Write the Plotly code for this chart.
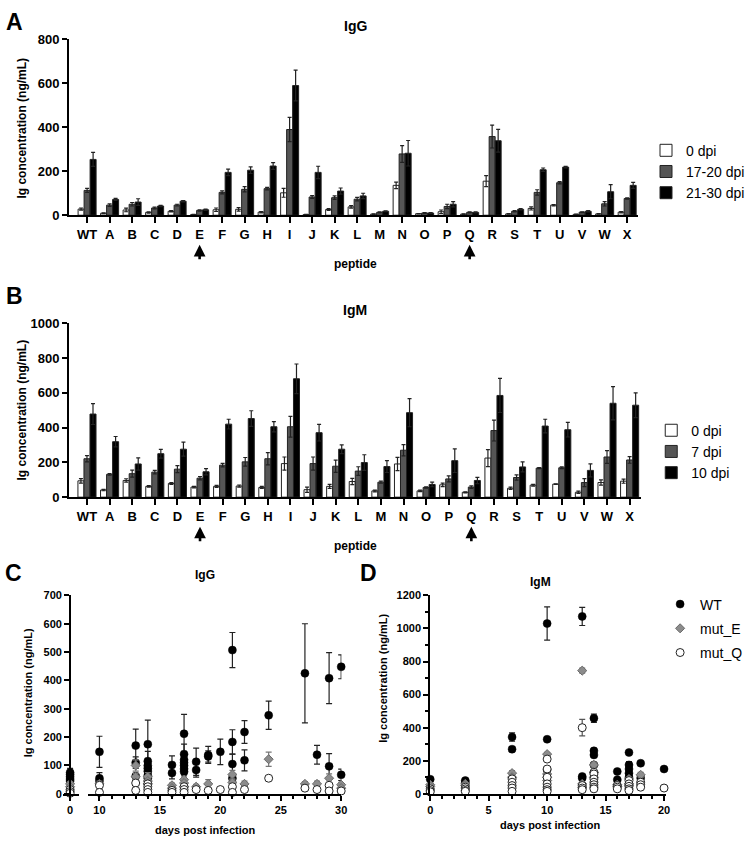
import plotly.graph_objects as go

W, H = 750, 847
def fx(p): return p / W
def fy(p): return 1 - p / H

FONT = "Liberation Sans, Arial, sans-serif"

# ---------------- data ----------------
peptides = ["WT", "A", "B", "C", "D", "E", "F", "G", "H", "I", "J", "K", "L",
            "M", "N", "O", "P", "Q", "R", "S", "T", "U", "V", "W", "X"]

# Panel A (IgG)
igg_0dpi = [28, 9, 24, 13, 18, 3, 25, 27, 14, 102, 3, 26, 38, 5, 136, 7, 16, 5, 155, 6, 31, 46, 4, 6, 14]
igg_0dpi_err = [5, 2, 8, 3, 3, 1, 8, 8, 3, 20, 1, 4, 6, 1, 15, 1, 8, 1, 25, 1, 7, 3, 1, 1, 3]
igg_17dpi = [113, 46, 50, 33, 46, 22, 104, 118, 121, 390, 83, 80, 73, 13, 279, 10, 40, 13, 358, 18, 104, 148, 14, 52, 76]
igg_17dpi_err = [9, 6, 8, 4, 4, 3, 7, 12, 6, 55, 6, 8, 8, 2, 38, 2, 10, 2, 52, 3, 12, 5, 2, 10, 3]
igg_21dpi = [254, 72, 60, 42, 64, 25, 195, 205, 224, 590, 195, 110, 88, 18, 282, 10, 50, 13, 339, 27, 207, 219, 18, 107, 136]
igg_21dpi_err = [32, 5, 15, 3, 3, 3, 15, 15, 15, 70, 28, 14, 12, 2, 58, 2, 12, 2, 52, 3, 8, 3, 3, 32, 14]

# Panel B (IgM)
igm_0dpi = [94, 41, 96, 62, 79, 58, 62, 64, 56, 193, 43, 62, 90, 36, 191, 36, 71, 28, 225, 51, 69, 75, 28, 84, 92]
igm_0dpi_err = [13, 4, 10, 4, 5, 4, 6, 6, 6, 38, 15, 12, 18, 5, 38, 4, 10, 3, 49, 7, 5, 2, 7, 15, 12]
igm_7dpi = [221, 131, 135, 144, 161, 109, 184, 203, 221, 405, 193, 178, 150, 86, 270, 56, 105, 58, 383, 113, 167, 169, 84, 231, 214]
igm_7dpi_err = [18, 5, 20, 10, 20, 9, 10, 25, 35, 60, 38, 35, 25, 6, 32, 4, 17, 7, 60, 15, 3, 5, 23, 37, 19]
igm_10dpi = [478, 319, 191, 250, 276, 146, 420, 452, 405, 681, 371, 276, 199, 176, 486, 73, 210, 96, 585, 174, 409, 388, 154, 540, 529]
igm_10dpi_err = [60, 30, 35, 25, 40, 18, 28, 45, 30, 85, 48, 25, 45, 34, 81, 13, 68, 18, 98, 29, 39, 42, 37, 96, 71]

# Panel C (IgG over time)
c_wt_day = [0, 0, 0, 0, 0, 10, 10, 10, 13, 13, 13, 14, 14, 14, 14, 14, 14, 14, 16, 16,
            17, 17, 17, 17, 17, 17, 17, 18, 18, 19, 19, 20, 21, 21, 21, 21, 22, 22, 24, 27, 28, 29, 29, 30, 30]
c_wt_val = [75, 68, 60, 52, 45, 148, 55, 45, 170, 110, 62, 175, 115, 100, 90, 80, 65, 55, 102, 73,
            212, 140, 120, 110, 100, 88, 78, 113, 84, 137, 132, 148, 507, 183, 105, 55, 218, 118, 277, 425, 138, 408, 97, 448, 67]
c_wt_err = [15, 12, 10, 8, 6, 55, 20, 10, 58, 20, 10, 85, 35, 25, 15, 12, 10, 8, 32, 20,
            68, 35, 30, 25, 20, 15, 12, 48, 25, 30, 20, 45, 62, 43, 35, 10, 40, 37, 50, 175, 33, 90, 45, 42, 20]

c_e_day = [0, 0, 10, 13, 13, 14, 14, 14, 16, 16, 17, 17, 17, 18, 19, 21, 21, 22, 24, 27, 28, 29, 30, 30]
c_e_val = [35, 25, 35, 100, 60, 60, 45, 35, 30, 20, 50, 38, 25, 25, 35, 68, 40, 35, 122, 35, 35, 55, 32, 20]
c_e_err = [8, 6, 10, 20, 12, 15, 10, 8, 8, 6, 12, 10, 8, 8, 15, 15, 10, 10, 25, 8, 10, 15, 8, 6]

c_q_day = [0, 0, 0, 10, 10, 13, 13, 14, 14, 14, 14, 16, 16, 17, 17, 17, 18, 19, 20, 21, 21, 22, 24, 27, 28, 29, 29, 30]
c_q_val = [15, 8, 2, 30, 5, 38, 12, 35, 25, 15, 5, 12, 5, 25, 15, 5, 15, 12, 15, 25, 5, 15, 55, 20, 15, 30, 10, 10]
c_q_err = [4, 3, 2, 5, 2, 6, 3, 6, 5, 4, 2, 3, 2, 5, 4, 2, 4, 3, 4, 5, 2, 4, 5, 4, 4, 5, 3, 3]

# Panel D (IgM over time)
d_wt_day = [0, 3, 3, 7, 7, 10, 10, 10, 13, 13, 13, 14, 14, 14, 14, 16, 16, 17, 17, 17, 17, 17, 18, 18, 20]
d_wt_val = [88, 80, 70, 343, 270, 1030, 330, 145, 1073, 105, 95, 457, 260, 235, 175, 135, 85, 250, 175, 150, 125, 100, 185, 95, 150]
d_wt_err = [8, 8, 6, 25, 15, 100, 10, 10, 55, 10, 8, 25, 15, 12, 10, 8, 6, 10, 20, 15, 12, 10, 8, 6, 5]

d_e_day = [0, 0, 3, 3, 7, 7, 10, 10, 10, 10, 13, 13, 13, 14, 14, 14, 16, 16, 17, 17, 17, 18]
d_e_val = [55, 45, 60, 50, 125, 100, 240, 120, 100, 80, 745, 60, 40, 175, 130, 100, 55, 45, 90, 60, 50, 115]
d_e_err = [6, 5, 6, 5, 15, 10, 10, 10, 8, 8, 15, 8, 6, 12, 10, 8, 6, 5, 10, 8, 6, 15]

d_q_day = [0, 0, 0, 3, 3, 3, 3, 7, 7, 7, 7, 7, 10, 10, 10, 10, 10, 10, 10, 13, 13, 13, 13,
           14, 14, 14, 14, 14, 14, 14, 16, 16, 16, 17, 17, 17, 17, 17, 18, 18, 18, 20]
d_q_val = [30, 20, 12, 40, 30, 20, 15, 90, 70, 50, 35, 15, 210, 150, 100, 60, 40, 25, 15, 400, 50, 35, 25,
           130, 120, 90, 70, 55, 40, 30, 50, 40, 30, 80, 60, 45, 30, 20, 70, 55, 40, 35]
d_q_err = [4, 3, 2, 4, 3, 3, 2, 10, 8, 6, 5, 3, 12, 10, 8, 6, 5, 4, 3, 50, 6, 5, 4,
           10, 10, 8, 6, 5, 4, 3, 6, 5, 4, 10, 8, 6, 5, 4, 8, 6, 5, 4]

legend_a = ["0 dpi", "17-20 dpi", "21-30 dpi"]
legend_b = ["0 dpi", "7 dpi", "10 dpi"]
series_names = ["WT", "mut_E", "mut_Q"]

# ---------------- figure ----------------
fig = go.Figure()

bar_fills = ["#ffffff", "#555555", "#000000"]


def add_bars(vals, errs, name, fill, xa, ya, leg):
    fig.add_trace(go.Bar(
        x=peptides, y=vals, name=name, xaxis=xa, yaxis=ya, legend=leg,
        marker=dict(color=fill, line=dict(color="#222222", width=1)),
        error_y=dict(type="data", array=errs, color="#222222", thickness=1.2, width=2),
    ))


for vals, errs, name, fill in zip([igg_0dpi, igg_17dpi, igg_21dpi],
                                  [igg_0dpi_err, igg_17dpi_err, igg_21dpi_err],
                                  legend_a, bar_fills):
    add_bars(vals, errs, name, fill, "x", "y", "legend")

for vals, errs, name, fill in zip([igm_0dpi, igm_7dpi, igm_10dpi],
                                  [igm_0dpi_err, igm_7dpi_err, igm_10dpi_err],
                                  legend_b, bar_fills):
    add_bars(vals, errs, name, fill, "x2", "y2", "legend2")

styles = [
    dict(marker=dict(symbol="circle", size=8, color="#000000", line=dict(color="#000000", width=0.5)), ecol="#222222"),
    dict(marker=dict(symbol="diamond", size=7, color="#8c8c8c", line=dict(color="#6a6a6a", width=1)), ecol="#777777"),
    dict(marker=dict(symbol="circle", size=8, color="#ffffff", line=dict(color="#222222", width=1)), ecol="#555555"),
]


def add_scatter(days, vals, errs, idx, xa, ya, show, split_zero=False):
    st = styles[idx]
    if split_zero:
        groups = [(xa[0], [i for i, d in enumerate(days) if d == 0]),
                  (xa[1], [i for i, d in enumerate(days) if d != 0])]
    else:
        groups = [(xa, list(range(len(days))))]
    for k, (ax, ids) in enumerate(groups):
        fig.add_trace(go.Scatter(
            x=[days[i] for i in ids], y=[vals[i] for i in ids],
            mode="markers", name=series_names[idx], legend="legend3",
            legendgroup=series_names[idx],
            showlegend=(show and k == 0), xaxis=ax, yaxis=ya, cliponaxis=False,
            marker=st["marker"],
            error_y=dict(type="data", array=[errs[i] for i in ids], color=st["ecol"],
                         thickness=1.2, width=3),
        ))


add_scatter(c_wt_day, c_wt_val, c_wt_err, 0, ("x3", "x4"), "y3", False, True)
add_scatter(c_e_day, c_e_val, c_e_err, 1, ("x3", "x4"), "y3", False, True)
add_scatter(c_q_day, c_q_val, c_q_err, 2, ("x3", "x4"), "y3", False, True)
add_scatter(d_wt_day, d_wt_val, d_wt_err, 0, "x5", "y5", True)
add_scatter(d_e_day, d_e_val, d_e_err, 1, "x5", "y5", True)
add_scatter(d_q_day, d_q_val, d_q_err, 2, "x5", "y5", True)

axis_common = dict(showline=True, linewidth=2, linecolor="black", ticks="outside",
                   tickwidth=2, tickcolor="black", showgrid=False, zeroline=False,
                   fixedrange=True)

bold14 = dict(family=FONT, size=14, color="black", weight="bold")
bold13 = dict(family=FONT, size=13, color="black", weight="bold")
bold12 = dict(family=FONT, size=12, color="black", weight="bold")
bold11 = dict(family=FONT, size=11, color="black", weight="bold")

fig.update_layout(
    width=W, height=H,
    margin=dict(l=0, r=0, t=0, b=0),
    paper_bgcolor="white", plot_bgcolor="white",
    barmode="group", bargap=0.2, bargroupgap=0.0,
    font=dict(family=FONT, color="black"),
    xaxis=dict(axis_common, domain=[fx(67), fx(644)], anchor="y", type="category",
               range=[-0.8, 24.5], ticklen=6, tickfont=bold13),
    yaxis=dict(axis_common, domain=[fy(212), fy(33)], anchor="x", range=[0, 800],
               tickvals=[0, 200, 400, 600, 800], ticklen=5, tickfont=bold13),
    xaxis2=dict(axis_common, domain=[fx(67), fx(647)], anchor="y2", type="category",
                range=[-0.79, 24.52], ticklen=6, tickfont=bold13),
    yaxis2=dict(axis_common, domain=[fy(499), fy(322)], anchor="x2", range=[0, 1000],
                tickvals=[0, 200, 400, 600, 800, 1000], ticklen=5, tickfont=bold13),
    # panel C: broken x axis
    xaxis3=dict(axis_common, domain=[fx(61), fx(77)], anchor="y3", range=[-0.57, 0.73],
                tickvals=[0], ticklen=5, tickfont=bold11),
    xaxis4=dict(axis_common, domain=[fx(86), fx(343)], anchor="y3", range=[9.04, 30.02],
                tickvals=[10, 15, 20, 25, 30], ticklen=5, tickfont=bold11,
                minor=dict(tickvals=list(range(10, 31)), ticklen=3, tickwidth=1.5,
                           ticks="outside", tickcolor="black")),
    yaxis3=dict(axis_common, domain=[fy(801), fy(599)], anchor="free", position=fx(68),
                range=[0, 700], tickvals=[0, 100, 200, 300, 400, 500, 600, 700],
                ticklen=5, tickfont=bold11),
    xaxis5=dict(axis_common, domain=[fx(433), fx(672)], anchor="y5", range=[0, 20.17],
                tickvals=[0, 5, 10, 15, 20], ticklen=5, tickfont=bold11,
                minor=dict(tickvals=list(range(0, 21)), ticklen=3, tickwidth=1.5,
                           ticks="outside", tickcolor="black")),
    yaxis5=dict(axis_common, domain=[fy(801), fy(599)], anchor="x5", range=[0, 1200],
                tickvals=[0, 200, 400, 600, 800, 1000, 1200], ticklen=5, tickfont=bold11,
                minor=dict(tickvals=[100, 300, 500, 700, 900, 1100], ticklen=3, tickwidth=1.5,
                           ticks="outside", tickcolor="black")),
    legend=dict(x=fx(652), y=fy(130), xanchor="left", yanchor="top",
                font=dict(family=FONT, size=14, color="black"), bgcolor="rgba(0,0,0,0)",
                tracegroupgap=3),
    legend2=dict(x=fx(657), y=fy(415), xanchor="left", yanchor="top",
                 font=dict(family=FONT, size=14, color="black"), bgcolor="rgba(0,0,0,0)",
                 tracegroupgap=3),
    legend3=dict(x=fx(666), y=fy(592), xanchor="left", yanchor="top",
                 font=dict(family=FONT, size=14, color="black"), bgcolor="rgba(0,0,0,0)",
                 tracegroupgap=3, traceorder="grouped"),
    showlegend=True,
)

ann = []


def text(x, y, s, font, angle=0):
    ann.append(dict(x=fx(x), y=fy(y), xref="paper", yref="paper", text=s, showarrow=False,
                    font=font, textangle=angle, xanchor="center", yanchor="middle"))


letter = dict(family=FONT, size=23, color="black", weight="bold")
text(12, 15, "A", letter)
text(12, 294, "B", letter)
text(11, 576, "C", letter)
text(370, 576, "D", letter)

text(357, 19, "IgG", bold14)
text(357, 308, "IgM", bold14)
text(205, 578, "IgG", bold12)
text(545, 585, "IgM", bold12)

text(19, 123, "Ig concentration (ng/mL)", bold12, -90)
text(19, 410, "Ig concentration (ng/mL)", bold12, -90)
text(25, 698, "Ig concentration (ng/mL)", bold11, -90)
text(385, 683, "Ig concentration (ng/mL)", bold11, -90)

text(357, 262, "peptide", bold12)
text(357, 549, "peptide", bold12)
text(205, 838, "days post infection", bold11)
text(555, 833, "days post infection", bold11)

for xa, head, tail in [("x", 242, 258), ("x2", 529, 545)]:
    for pep in ["E", "Q"]:
        ann.append(dict(x=pep, xref=xa, y=fy(head), yref="paper", ax=0, ay=tail - head,
                        axref="pixel", ayref="pixel", text="", showarrow=True,
                        arrowhead=2, arrowsize=0.9, arrowwidth=2.6, arrowcolor="black"))

fig.update_layout(annotations=ann)

fig.write_html("out.html")
